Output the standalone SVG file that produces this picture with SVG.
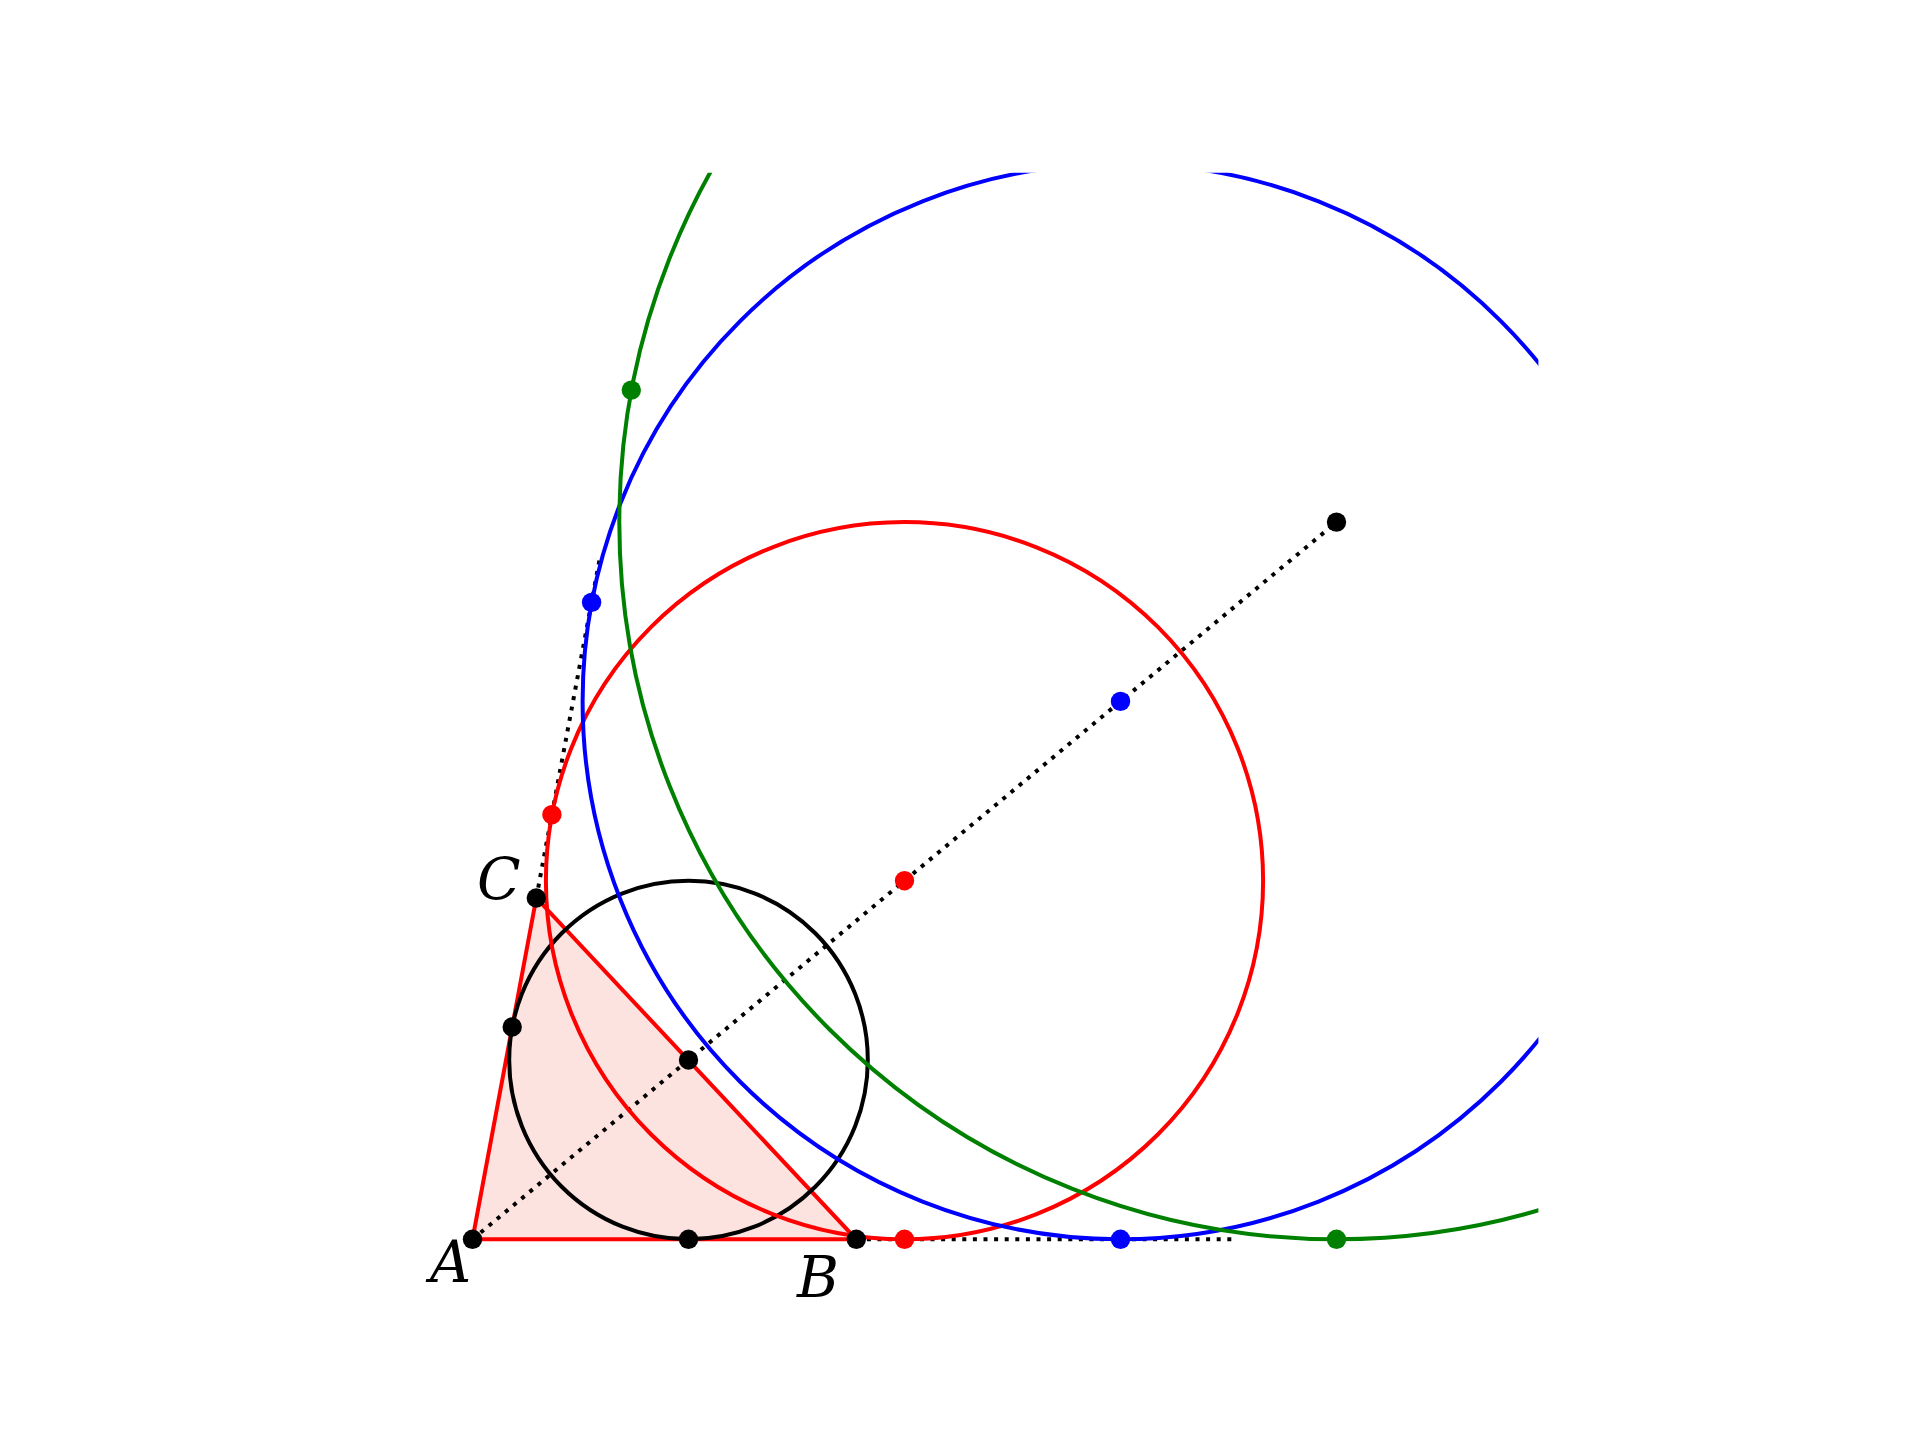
<svg xmlns="http://www.w3.org/2000/svg" width="1920" height="1440" viewBox="0 0 1920 1440">
<style>
.circ{fill:none;stroke-width:4}
.dot{stroke:none}
.dotted{fill:none;stroke:#000;stroke-width:4;stroke-dasharray:4 6.6}
.lbl{font-family:"DejaVu Serif","Liberation Serif",serif;font-style:italic;font-size:57px;fill:#000}
</style>
<defs>
<clipPath id="ax"><rect x="429.6" y="172.8" width="1108.8" height="1108.8"/></clipPath>
</defs>
<rect x="0" y="0" width="1920" height="1440" fill="#fff"/>
<g id="triangle-fill">
<polygon points="472.5,1239.3 856.3,1239.3 536.3,898" fill="#fde3df" stroke="none"/>
</g>
<g id="connectors">
<line class="dotted" x1="472.5" y1="1239.3" x2="1336.5" y2="522.1"/>
<line class="dotted" x1="856.3" y1="1239.3" x2="1237" y2="1239.3"/>
<line class="dotted" x1="536.3" y1="898" x2="600" y2="557"/>
</g>
<g id="triangle">
<polygon points="472.5,1239.3 856.3,1239.3 536.3,898" fill="none" stroke="#f00" stroke-width="4" stroke-linejoin="miter"/>
</g>
<g id="circles" clip-path="url(#ax)">
<circle id="circle-black" class="circ" cx="688.5" cy="1060" r="179.3" stroke="#000"/>
<circle id="circle-red" class="circ" cx="904.5" cy="880.7" r="358.6" stroke="#f00"/>
<circle id="circle-blue" class="circ" cx="1120.5" cy="701.4" r="537.9" stroke="#00f"/>
<circle id="circle-green" class="circ" cx="1336.5" cy="522.1" r="717.2" stroke="#008000"/>
</g>
<g id="points">
<circle id="pA" class="dot" cx="472.5" cy="1239.3" r="9.7" fill="#000"/>
<circle id="pB" class="dot" cx="856.3" cy="1239.3" r="9.7" fill="#000"/>
<circle id="pC" class="dot" cx="536.3" cy="898" r="9.7" fill="#000"/>
<circle id="p1c" class="dot" cx="688.5" cy="1060" r="9.7" fill="#000"/>
<circle id="p1a" class="dot" cx="688.5" cy="1239.3" r="9.7" fill="#000"/>
<circle id="p1b" class="dot" cx="512.2" cy="1027" r="9.7" fill="#000"/>
<circle id="p2c" class="dot" cx="904.5" cy="880.7" r="9.7" fill="#f00"/>
<circle id="p2a" class="dot" cx="904.5" cy="1239.3" r="9.7" fill="#f00"/>
<circle id="p2b" class="dot" cx="551.9" cy="814.7" r="9.7" fill="#f00"/>
<circle id="p3c" class="dot" cx="1120.5" cy="701.4" r="9.7" fill="#00f"/>
<circle id="p3a" class="dot" cx="1120.5" cy="1239.3" r="9.7" fill="#00f"/>
<circle id="p3b" class="dot" cx="591.6" cy="602.4" r="9.7" fill="#00f"/>
<circle id="p4a" class="dot" cx="1336.5" cy="1239.3" r="9.7" fill="#008000"/>
<circle id="p4b" class="dot" cx="631.3" cy="390.1" r="9.7" fill="#008000"/>
<circle id="p4c" class="dot" cx="1336.5" cy="522.1" r="9.7" fill="#000"/>
</g>
<g id="labels">
<text class="lbl" x="430" y="1282">A</text>
<text class="lbl" x="797" y="1297">B</text>
<text class="lbl" x="477" y="899">C</text>
</g>
</svg>
